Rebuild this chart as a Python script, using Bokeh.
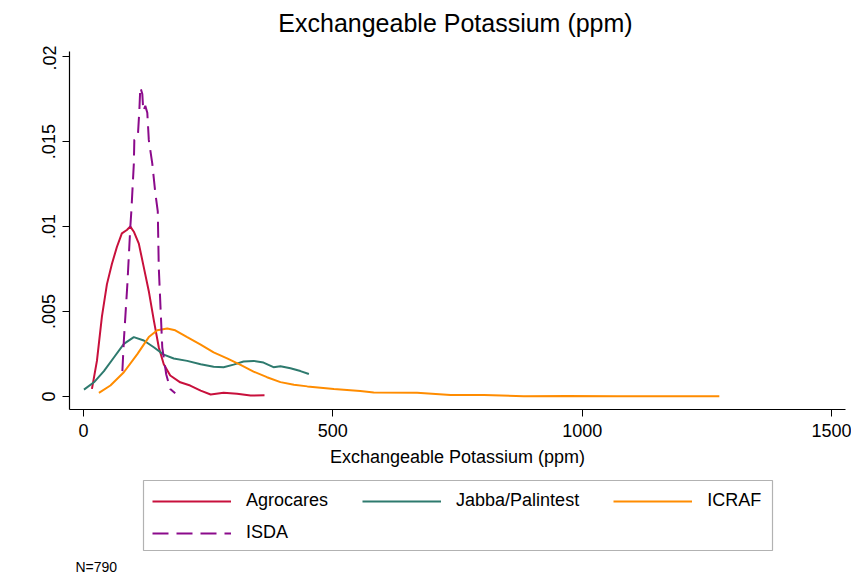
from bokeh.plotting import figure
from bokeh.layouts import column
from bokeh.models import (Legend, LegendItem, Label, FixedTicker, CustomJSTickFormatter,
                          Range1d, BoxAnnotation)
from bokeh.embed import file_html
from bokeh.resources import INLINE

# ---- data ----
agro_x = [17, 27, 37, 47, 57, 67, 77, 87, 94, 101, 111, 121, 131, 141, 151, 161, 174, 194, 214, 235, 255, 281, 308, 335, 363]
agro_y = [0.00045, 0.0021, 0.0047, 0.0066, 0.0078, 0.0088, 0.0096, 0.0098, 0.0100, 0.0097, 0.0090, 0.0076, 0.0062, 0.0045, 0.0029, 0.0019, 0.00124, 0.00084, 0.00065, 0.00035, 0.00012, 0.00022, 0.00016, 0.00006, 0.00008]

jabba_x = [1, 21, 41, 61, 81, 101, 121, 141, 161, 181, 208, 235, 261, 281, 301, 321, 341, 361, 381, 395, 415, 435, 452]
jabba_y = [0.00041, 0.00084, 0.0015, 0.0023, 0.0031, 0.0035, 0.0033, 0.0029, 0.00247, 0.00224, 0.0021, 0.0019, 0.00176, 0.00173, 0.00188, 0.00206, 0.0021, 0.0020, 0.00173, 0.00179, 0.00167, 0.0015, 0.00133]

icraf_x = [31, 54, 81, 108, 131, 148, 168, 184, 208, 235, 261, 288, 315, 341, 368, 395, 422, 449, 502, 555, 582, 669, 736, 803, 883, 970, 1070, 1170, 1275]
icraf_y = [0.00022, 0.00065, 0.00143, 0.0025, 0.0035, 0.0039, 0.0040, 0.0039, 0.0035, 0.00306, 0.0026, 0.00225, 0.00186, 0.00147, 0.00114, 0.00085, 0.00069, 0.00060, 0.00045, 0.00033, 0.00024, 0.00022, 0.00010, 0.00010, 0.00002, 0.00004, 0.00002, 0.00002, 0.00002]

isda_x = [78, 81, 88, 94, 96, 101, 102, 109, 112, 114, 118, 120, 124, 128, 131, 138, 144, 149, 151, 158, 166, 174, 184]
isda_y = [0.0015, 0.0033, 0.0066, 0.0100, 0.0109, 0.0137, 0.0151, 0.0153, 0.0168, 0.0182, 0.0178, 0.0168, 0.0171, 0.0167, 0.0151, 0.0137, 0.0120, 0.0109, 0.0076, 0.0029, 0.0013, 0.00045, 0.0002]

series_names = ["Agrocares", "Jabba/Palintest", "ICRAF", "ISDA"]
series_colors = ["#c8103c", "#2e7a6e", "#ff8c00", "#8b0a8b"]
series_dash = ["solid", "solid", "solid", "16 8"]
x_ticks = [0, 500, 1000, 1500]
y_ticks = [0, 0.005, 0.01, 0.015, 0.02]

FONT = "Liberation Sans"
W = 851
NAN = float("nan")
FRAME_L, FRAME_R = 69, 845   # frames are aligned across the column


def blank(h):
    f = figure(width=W, height=h, output_backend="svg", toolbar_location=None,
               x_range=Range1d(FRAME_L, FRAME_R), y_range=Range1d(0, h),
               x_axis_type=None, y_axis_type=None,
               min_border_left=FRAME_L, min_border_right=W - FRAME_R,
               min_border_top=0, min_border_bottom=0)
    f.grid.visible = False
    f.outline_line_color = None
    f.background_fill_color = "white"
    f.border_fill_color = "white"
    return f


# ---- title strip ----
TOP_H = 45
top = blank(TOP_H)
top.add_layout(Label(x=455, y=TOP_H - 22, text="Exchangeable Potassium (ppm)",
                     text_font=FONT, text_font_size="25px", text_align="center",
                     text_baseline="middle", text_color="black"))

# ---- main chart ----
p = figure(width=W, height=425, output_backend="svg", toolbar_location=None,
           x_range=Range1d(-28, 1528), y_range=Range1d(-0.00076, 0.0203),
           min_border_left=FRAME_L, min_border_right=W - FRAME_R,
           min_border_top=6, min_border_bottom=61)
p.outline_line_color = None
p.grid.visible = False
p.background_fill_color = "white"
p.border_fill_color = "white"

xs = [agro_x, jabba_x, icraf_x, isda_x]
ys = [agro_y, jabba_y, icraf_y, isda_y]
for x, y, c, d in zip(xs, ys, series_colors, series_dash):
    p.line(x, y, line_color=c, line_width=2, line_dash=d)

for ax in (p.xaxis[0], p.yaxis[0]):
    ax.axis_line_color = "black"
    ax.axis_line_width = 1.2
    ax.major_tick_line_color = "black"
    ax.major_tick_out = 7
    ax.major_tick_in = 0
    ax.minor_tick_line_color = None
    ax.major_label_text_font = FONT
    ax.major_label_text_font_size = "18px"
    ax.major_label_text_color = "black"
    ax.axis_label_text_font = FONT
    ax.axis_label_text_font_size = "18px"
    ax.axis_label_text_font_style = "normal"
    ax.axis_label_text_color = "black"

p.xaxis.ticker = FixedTicker(ticks=x_ticks)
p.xaxis.axis_label = "Exchangeable Potassium (ppm)"
p.xaxis.major_label_standoff = 7
p.xaxis.axis_label_standoff = 7

p.yaxis.ticker = FixedTicker(ticks=y_ticks)
p.yaxis.formatter = CustomJSTickFormatter(code="""
if (Math.abs(tick) < 1e-12) return "0";
let s = tick.toFixed(3).replace(/0+$/, "");
return s.replace(/^0/, "");
""")
p.yaxis.major_label_orientation = "parallel"
p.yaxis.major_label_standoff = 7

# ---- legend strip ----
BOT_H = 104
bot = blank(BOT_H)
dummies = [bot.line([NAN, NAN], [NAN, NAN], line_color=c, line_width=2, line_dash=d)
           for c, d in zip(series_colors, series_dash)]

common = dict(orientation="horizontal", glyph_width=79, glyph_height=20,
              label_standoff=15, spacing=34, padding=0, margin=0,
              label_text_font=FONT, label_text_font_size="18px", label_text_color="black",
              border_line_color=None, background_fill_alpha=0.0)
leg1 = Legend(items=[LegendItem(label=series_names[i], renderers=[dummies[i]]) for i in range(3)],
              location=(152 - FRAME_L, 63), **common)
leg2 = Legend(items=[LegendItem(label=series_names[3], renderers=[dummies[3]])],
              location=(152 - FRAME_L, 31), **common)
bot.add_layout(leg1, "center")
bot.add_layout(leg2, "center")
bot.add_layout(BoxAnnotation(left=143, right=772, bottom=24, top=94,
                             fill_color=None, fill_alpha=0, line_color="black", line_width=1.2))
bot.add_layout(Label(x=75, y=8, text="N=790", text_font=FONT, text_font_size="14px",
                     text_align="left", text_baseline="middle", text_color="black"))

layout = column(top, p, bot, spacing=0)
open("out.html", "w").write(file_html(layout, INLINE))
